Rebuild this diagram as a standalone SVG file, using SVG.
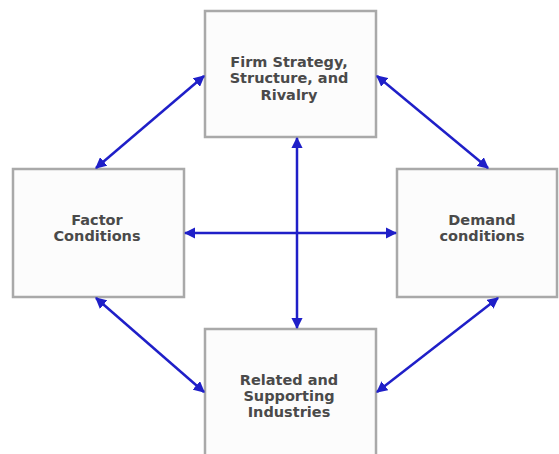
<svg xmlns="http://www.w3.org/2000/svg" width="559" height="454" viewBox="0 0 559 454">
<style>
.box{fill:#fcfcfc;stroke:#a9a9a9;stroke-width:2.5}
.t{font-family:"DejaVu Sans",Verdana,sans-serif;font-size:14.5px;font-weight:bold;fill:#4a4a4a;text-anchor:middle}
.c{stroke:#1f1fc8;stroke-width:2.5;fill:none;marker-start:url(#a);marker-end:url(#a)}
</style>
<defs>
<marker id="a" viewBox="0 0 10 10" refX="9" refY="5" markerWidth="4.5" markerHeight="4.5" orient="auto-start-reverse" markerUnits="strokeWidth">
<path d="M0,0 L10,5 L0,10 z" fill="#1f1fc8"/>
</marker>
</defs>
<rect width="559" height="454" fill="#ffffff"/>
<g id="firm">
<rect class="box" x="205" y="11" width="171" height="126"/>
<text class="t" x="289" y="67">Firm Strategy,</text>
<text class="t" x="289" y="83">Structure, and</text>
<text class="t" x="289" y="100">Rivalry</text>
</g>
<g id="factor">
<rect class="box" x="13" y="169" width="171" height="128"/>
<text class="t" x="97" y="225">Factor</text>
<text class="t" x="97" y="241">Conditions</text>
</g>
<g id="demand">
<rect class="box" x="397" y="169" width="160" height="128"/>
<text class="t" x="482" y="225">Demand</text>
<text class="t" x="482" y="241">conditions</text>
</g>
<g id="related">
<rect class="box" x="205" y="329" width="171" height="130"/>
<text class="t" x="289" y="385">Related and</text>
<text class="t" x="289" y="401">Supporting</text>
<text class="t" x="289" y="417">Industries</text>
</g>
<g id="connectors">
<line class="c" x1="204" y1="76" x2="96" y2="168"/>
<line class="c" x1="377" y1="76" x2="488" y2="168"/>
<line class="c" x1="96" y1="298" x2="204" y2="392"/>
<line class="c" x1="377" y1="392" x2="498" y2="298"/>
<line class="c" x1="185" y1="233" x2="396" y2="233"/>
<line class="c" x1="297" y1="138" x2="297" y2="328"/>
</g>
</svg>
